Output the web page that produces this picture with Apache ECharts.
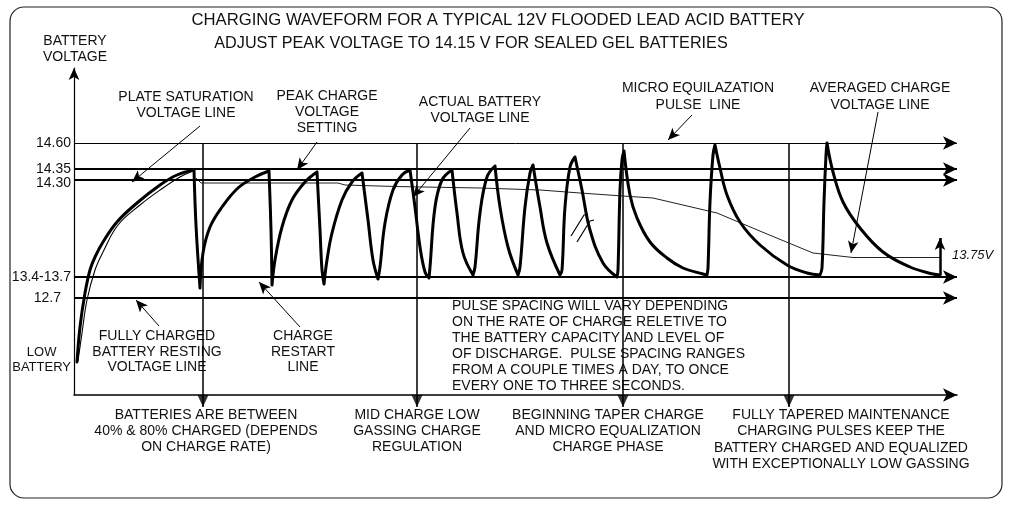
<!DOCTYPE html>
<html>
<head>
<meta charset="utf-8">
<script src="https://cdn.jsdelivr.net/npm/echarts@6/dist/echarts.min.js"></script>
<style>
  html, body { margin: 0; background: #fff; }
  #main { width: 1017px; height: 514px; }
</style>
</head>
<body>
<div id="main"></div>
<script type="text/javascript">
// diagram units: x = time along the charge, y = height above the base line
var levelNames = ['14.60', '14.35', '14.30', '13.4-13.7', '12.7', 'LOW BATTERY'];
var levelY = [252, 226, 215, 118, 97, 35];
var levelWidth = [1, 2.2, 2.2, 2.2, 2.2];

// phase divider arrows
var phaseX = [129, 343, 549, 715];
var phaseTop = 252, phaseBottom = -12, phaseHead = -6;

// actual battery voltage, one piece per rise / drop
var actualPieces = [
  [[3,33],[6,68],[11,102],[16,125],[21,138],[29,153],[43,173],[63,192],[86,210],[103,220],[120,225]],
  [[120,225],[122,170],[126,107]],
  [[126,107],[129,142],[136,168],[148,188],[164,207],[181,218],[195,224]],
  [[195,224],[197,165],[198,110]],
  [[198,110],[201,135],[208,168],[218,195],[231,213],[243,223]],
  [[243,223],[246,165],[248,125],[250,111]],
  [[250,111],[253,135],[258,162],[268,195],[278,213],[288,222]],
  [[288,222],[294,175],[299,135],[304,116]],
  [[304,116],[306,128],[311,172],[319,205],[328,220],[336,225]],
  [[336,225],[341,188],[346,148],[351,123],[355,117]],
  [[355,117],[356,128],[361,188],[368,215],[378,225]],
  [[378,225],[383,182],[389,142],[399,120]],
  [[399,120],[401,128],[406,182],[413,218],[421,229]],
  [[421,229],[426,188],[434,148],[444,120]],
  [[444,120],[446,128],[451,188],[456,222],[459,230]],
  [[459,230],[466,188],[473,152],[486,120]],
  [[486,120],[488,125],[491,188],[496,228],[501,238]],
  [[501,238],[508,205],[516,165],[529,132],[543,118]],
  [[543,118],[544,125],[546,205],[548,235],[550,244]],
  [[550,244],[556,200],[563,177],[576,153],[593,137],[609,127],[629,121],[633,120]],
  [[633,120],[634,127],[636,193],[639,240],[641,250]],
  [[641,250],[646,227],[653,200],[666,173],[686,150],[713,130],[733,122],[746,120]],
  [[746,120],[748,127],[750,193],[752,240],[753,252]],
  [[753,252],[759,223],[769,193],[786,167],[809,143],[836,128],[859,121],[866,120]]
];

// plate saturation line (thin line beside the first rise)
var saturationLine = [[4,34],[8,62],[13,95],[21,125],[29,143],[44,170],[66,190],[89,207],[106,218],[119,224]];

// averaged charge voltage
var averagedLine = [[122,217],[127,212],[264,212],[271,210],[321,208.5],[406,207],[466,205],[506,202],
  [556,198.5],[579,197],[643,182],[693,161],[739,142],[779,137.5],[866,137.5]];

// break mark in the waveform
var breakMark = [[[497,159],[510,180],[514,181]], [[503,153],[516,174],[520,175]]];

// pointer arrows from the notes
var pointerFrom = [[126,269],[243,253],[396,267],[618,280],[804,283],[85,69],[226,68]];
var pointerTo = [[58,213],[223,225],[339,198],[594,255],[777,142],[62,95],[185,113]];

// final averaged level arrow (13.75V)
var finalArrow = [[866,120],[866,157]];

function joinPieces(pieces) {
  var out = [];
  pieces.forEach(function (p, i) {
    if (i) out.push(['-', '-']);
    out = out.concat(p);
  });
  return out;
}

var FONT = '"Liberation Sans", Arial, sans-serif';
var INK = '#111';

var notes = [
  { text: 'CHARGING WAVEFORM FOR A TYPICAL 12V FLOODED LEAD ACID BATTERY', x: 498, y: 20, size: 16.7 },
  { text: 'ADJUST PEAK VOLTAGE TO 14.15 V FOR SEALED GEL BATTERIES', x: 471, y: 44, size: 16.2 },
  { text: 'BATTERY\nVOLTAGE', x: 75, y: 49 },
  { text: 'PLATE SATURATION\nVOLTAGE LINE', x: 186, y: 105.5 },
  { text: 'PEAK CHARGE\nVOLTAGE\nSETTING', x: 327, y: 112.5 },
  { text: 'ACTUAL BATTERY\nVOLTAGE LINE', x: 480, y: 110 },
  { text: 'MICRO EQUILAZATION\nPULSE  LINE', x: 698, y: 96.5, lh: 17 },
  { text: 'AVERAGED CHARGE\nVOLTAGE LINE', x: 880, y: 96.5, lh: 17 },
  { text: 'FULLY CHARGED\nBATTERY RESTING\nVOLTAGE LINE', x: 157, y: 352, lh: 15.5 },
  { text: 'CHARGE\nRESTART\nLINE', x: 303, y: 352, lh: 15.5 },
  { text: 'PULSE SPACING WILL VARY DEPENDING\nON THE RATE OF CHARGE RELETIVE TO\nTHE BATTERY CAPACITY AND LEVEL OF\nOF DISCHARGE.  PULSE SPACING RANGES\nFROM A COUPLE TIMES A DAY, TO ONCE\nEVERY ONE TO THREE SECONDS.', x: 452, y: 346, align: 'left' },
  { text: 'BATTERIES ARE BETWEEN\n40% & 80% CHARGED (DEPENDS\nON CHARGE RATE)', x: 206, y: 431.5 },
  { text: 'MID CHARGE LOW\nGASSING CHARGE\nREGULATION', x: 417, y: 431.5 },
  { text: 'BEGINNING TAPER CHARGE\nAND MICRO EQUALIZATION\nCHARGE PHASE', x: 608, y: 431.5 },
  { text: 'FULLY TAPERED MAINTENANCE\nCHARGING PULSES KEEP THE\nBATTERY CHARGED AND EQUALIZED\nWITH EXCEPTIONALLY LOW GASSING', x: 841, y: 439.5, lh: 16.3 },
  { text: '13.75V', x: 952, y: 255, align: 'left', size: 13, italic: true }
];

var myChart = echarts.init(document.getElementById('main'));

var graphics = [{
  type: 'rect',
  shape: { x: 10, y: 7, width: 992, height: 491, r: 14 },
  style: { fill: 'none', stroke: '#222', lineWidth: 1.2 },
  silent: true
}];
notes.forEach(function (n) {
  graphics.push({
    type: 'text',
    x: n.x,
    y: n.y,
    silent: true,
    style: {
      text: n.text,
      fill: INK,
      font: (n.italic ? 'italic ' : '') + (n.size || 14) + 'px ' + FONT,
      textAlign: n.align || 'center',
      textVerticalAlign: 'middle',
      lineHeight: n.lh || 16
    }
  });
});

var arrowLine = function (w) {
  return { color: '#000', width: w, type: 'solid' };
};

var option = {
  animation: false,
  backgroundColor: '#fff',
  grid: { left: 74, right: 60, top: 68, bottom: 119 },
  xAxis: {
    type: 'value',
    min: 0,
    max: 883,
    axisLine: {
      show: true, onZero: false,
      symbol: ['none', 'arrow'], symbolSize: [10, 14],
      lineStyle: { color: '#000', width: 1.5 }
    },
    axisTick: { show: false },
    axisLabel: { show: false },
    splitLine: { show: false }
  },
  yAxis: {
    type: 'value',
    min: 0,
    max: 327,
    axisLine: {
      show: true, onZero: false,
      symbol: ['none', 'arrow'], symbolSize: [8, 12],
      lineStyle: { color: '#000', width: 1.2 }
    },
    axisTick: { show: false },
    splitLine: { show: false },
    axisLabel: {
      customValues: levelY,
      margin: 3,
      color: INK,
      fontSize: 14,
      fontFamily: FONT,
      formatter: function (v) {
        var name = levelNames[levelY.indexOf(v)];
        if (name === 'LOW BATTERY') return '{c|LOW}\n{c|BATTERY}';
        if (name === '12.7') return '{p|12.7}';
        if (name === '14.30') return '{d|14.30}';
        return name;
      },
      rich: {
        c: { align: 'center', fontSize: 13, lineHeight: 15, fontFamily: FONT, color: INK },
        p: { padding: [0, 10, 0, 0], fontSize: 14, fontFamily: FONT, color: INK },
        d: { padding: [6, 0, 0, 0], fontSize: 14, fontFamily: FONT, color: INK }
      }
    }
  },
  graphic: graphics,
  series: [
    {
      name: 'levels',
      type: 'line',
      data: [],
      silent: true,
      markLine: {
        silent: true,
        symbol: ['none', 'arrow'],
        symbolSize: [10, 14],
        label: { show: false },
        emphasis: { disabled: true },
        data: levelY.slice(0, 5).map(function (v, i) {
          return { yAxis: v, lineStyle: arrowLine(levelWidth[i]) };
        })
      }
    },
    {
      name: 'phases',
      type: 'line',
      data: joinPieces(phaseX.map(function (x) {
        return [[x, phaseTop], [x, phaseBottom]];
      })),
      clip: false,
      showSymbol: false,
      silent: true,
      lineStyle: { color: '#000', width: 1.5 }
    },
    {
      name: 'phase heads',
      type: 'scatter',
      data: phaseX.map(function (x) { return [x, phaseHead]; }),
      clip: false,
      silent: true,
      symbol: 'triangle',
      symbolRotate: 180,
      symbolSize: [11, 12],
      itemStyle: { color: '#000' }
    },
    {
      name: 'pointers',
      type: 'line',
      data: [],
      silent: true,
      markLine: {
        silent: true,
        symbol: ['none', 'arrow'],
        symbolSize: [8, 12],
        label: { show: false },
        emphasis: { disabled: true },
        lineStyle: arrowLine(1),
        data: pointerFrom.map(function (p, i) {
          return [{ coord: p }, { coord: pointerTo[i] }];
        }).concat([[
          { coord: finalArrow[0], lineStyle: arrowLine(2.5) },
          { coord: finalArrow[1] }
        ]])
      }
    },
    {
      name: 'plate saturation',
      type: 'line',
      data: saturationLine,
      smooth: 0.4,
      showSymbol: false,
      silent: true,
      lineStyle: { color: '#000', width: 1.1 }
    },
    {
      name: 'averaged',
      type: 'line',
      data: averagedLine,
      showSymbol: false,
      silent: true,
      lineStyle: { color: '#222', width: 1 }
    },
    {
      name: 'break',
      type: 'line',
      data: joinPieces(breakMark),
      showSymbol: false,
      silent: true,
      lineStyle: { color: '#000', width: 1.2 }
    },
    {
      name: 'actual',
      type: 'line',
      data: joinPieces(actualPieces),
      smooth: 0.4,
      showSymbol: false,
      silent: true,
      z: 5,
      lineStyle: { color: '#000', width: 3, cap: 'round', join: 'round' }
    }
  ]
};

myChart.setOption(option);
</script>
</body>
</html>
